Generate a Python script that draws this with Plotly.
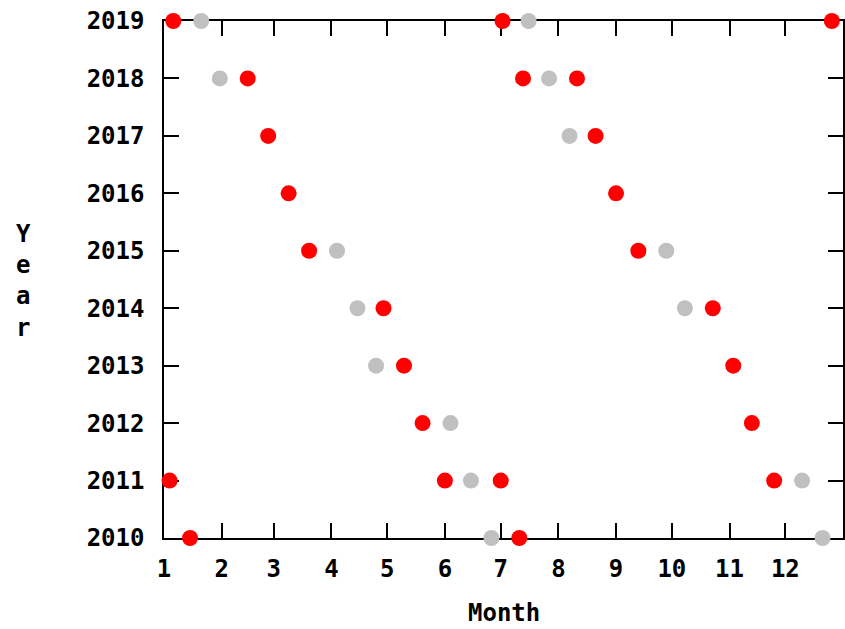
import plotly.graph_objects as go

# Eclipse dates 2010-2019, plotted by day of year (x) against year (y)
solar_eclipses = [
    "2010-01-15", "2010-07-11",
    "2011-01-04", "2011-06-01", "2011-07-01", "2011-11-25",
    "2012-05-20", "2012-11-13",
    "2013-05-10", "2013-11-03",
    "2014-04-29", "2014-10-23",
    "2015-03-20", "2015-09-13",
    "2016-03-09", "2016-09-01",
    "2017-02-26", "2017-08-21",
    "2018-02-15", "2018-07-13", "2018-08-11",
    "2019-01-06", "2019-07-02", "2019-12-26",
]
lunar_eclipses = [
    "2010-06-26", "2010-12-21",
    "2011-06-15", "2011-12-10",
    "2012-06-04",
    "2013-04-25",
    "2014-04-15", "2014-10-08",
    "2015-04-04", "2015-09-28",
    "2017-08-07",
    "2018-01-31", "2018-07-27",
    "2019-01-21", "2019-07-16",
]
years = list(range(2010, 2020))
month_labels = [str(m) for m in range(1, 13)]

BASE_YEAR = 2001  # common non-leap year used for the month axis


def split_dates(dates):
    xs, ys = [], []
    for d in dates:
        y, m, dd = d.split("-")
        xs.append(f"{BASE_YEAR}-{m}-{dd}")
        ys.append(int(y))
    return xs, ys


FONT = "DejaVu Sans Mono"
FSIZE = 24

fig = go.Figure()
for dates, color in ((lunar_eclipses, "#c0c0c0"), (solar_eclipses, "#ff0000")):
    xs, ys = split_dates(dates)
    fig.add_trace(go.Scatter(
        x=xs, y=ys, mode="markers",
        marker=dict(color=color, size=16, line=dict(width=0)),
        cliponaxis=False, hoverinfo="skip",
    ))

axis_common = dict(
    ticks="inside", ticklen=15, tickwidth=1.5, tickcolor="black",
    showline=True, linecolor="black", linewidth=1.5, mirror="ticks",
    showgrid=False, zeroline=False, layer="below traces",
    tickfont=dict(family=FONT, size=FSIZE, color="black", weight="bold"),
)

fig.update_xaxes(
    type="date", range=[f"{BASE_YEAR}-01-01", f"{BASE_YEAR + 1}-01-01"],
    tickvals=[f"{BASE_YEAR}-{m:02d}-01" for m in range(1, 13)],
    ticktext=month_labels, ticklabelstandoff=8, **axis_common,
)
fig.update_yaxes(
    range=[years[0], years[-1]], tickvals=years,
    ticktext=[str(y) for y in years], ticklabelstandoff=13, **axis_common,
)

M_L, M_R, M_T, M_B = 164, 0, 21, 91
plot_w = 845 - M_L - M_R
plot_h = 629 - M_T - M_B
bottom_px = 629 - M_B
fig.add_annotation(
    text="Month", xref="paper", yref="paper", x=0.5, y=(bottom_px - 613) / plot_h,
    xanchor="center", yanchor="middle", showarrow=False,
    font=dict(family=FONT, size=FSIZE, color="black", weight="bold"),
)
fig.add_annotation(
    text="Y<br>e<br>a<br>r", xref="paper", yref="paper",
    x=(23 - M_L) / plot_w, y=(bottom_px - 281) / plot_h,
    xanchor="center", yanchor="middle", showarrow=False,
    font=dict(family=FONT, size=FSIZE, color="black", weight="bold"),
)

fig.update_layout(
    width=845, height=629, showlegend=False,
    margin=dict(l=M_L, r=M_R, t=M_T, b=M_B),
    plot_bgcolor="white", paper_bgcolor="white",
)

fig.write_html("out.html")
